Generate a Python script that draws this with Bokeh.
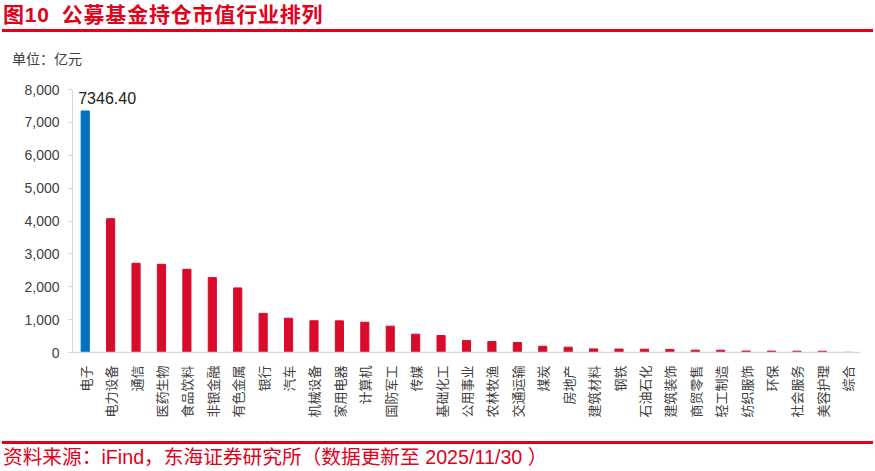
import math
from bokeh.plotting import figure
from bokeh.models import (ColumnDataSource, FactorRange, Range1d, NumeralTickFormatter,
                          FixedTicker, LabelSet, Div)
from bokeh.layouts import column
from bokeh.core.properties import value
from bokeh.embed import file_html
from bokeh.resources import INLINE

# ---- data ----
title_fig = "图10"
title_text = "公募基金持仓市值行业排列"
unit_text = "单位：亿元"
source_text = "资料来源：iFind，东海证券研究所（数据更新至 2025/11/30 ）"

industries = ["电子", "电力设备", "通信", "医药生物", "食品饮料", "非银金融", "有色金属", "银行",
              "汽车", "机械设备", "家用电器", "计算机", "国防军工", "传媒", "基础化工", "公用事业",
              "农林牧渔", "交通运输", "煤炭", "房地产", "建筑材料", "钢铁", "石油石化", "建筑装饰",
              "商贸零售", "轻工制造", "纺织服饰", "环保", "社会服务", "美容护理", "综合"]
market_value = [7346.40, 4070, 2713, 2683, 2531, 2278, 1964, 1190,
                1040, 965, 962, 921, 800, 557, 516, 364,
                334, 304, 190, 162, 110, 105, 100, 95,
                72, 70, 45, 42, 40, 38, 5]
y_ticks = [0, 1000, 2000, 3000, 4000, 5000, 6000, 7000, 8000]

RED = "#D80C2A"
TITLE_RED = "#E2001A"
BLUE = "#0070C0"
TXT = "#404040"
AXIS = "#D9D9D9"

colors = [BLUE] + [RED] * (len(industries) - 1)
src = ColumnDataSource(dict(cat=industries, val=market_value, color=colors))
lab_src = ColumnDataSource(dict(cat=industries[:1], val=market_value[:1],
                                txt=["%.2f" % market_value[0]]))

W = 875

head = Div(width=W, height=78, margin=0, text=f"""
<div style="position:relative;width:{W}px;height:78px;">
  <div style="position:absolute;left:3px;top:2px;white-space:nowrap;font-family:'Liberation Sans','Noto Sans CJK SC';font-weight:bold;font-size:21px;line-height:26px;letter-spacing:0.8px;color:{TITLE_RED};">{title_fig}<span style="margin-left:12px;">{title_text}</span></div>
  <div style="position:absolute;left:2px;top:29px;width:871px;height:3px;background:{TITLE_RED};"></div>
  <div style="position:absolute;left:12px;top:50px;white-space:nowrap;font-family:'Noto Sans CJK SC';font-size:14px;line-height:16px;color:{TXT};">{unit_text}</div>
</div>""")

p = figure(width=W, height=362, x_range=FactorRange(factors=industries, range_padding=0),
           y_range=Range1d(0, 8000), output_backend="svg", toolbar_location=None,
           min_border_left=72, min_border_right=15, min_border_top=11, min_border_bottom=88)
p.outline_line_color = None
p.xgrid.visible = False
p.ygrid.visible = False

p.vbar(x="cat", top="val", width=0.32, source=src, fill_color="color", line_color="color")

p.add_layout(LabelSet(x="cat", y="val", text="txt", source=lab_src, x_offset=-7, y_offset=7,
                      text_align="left", text_baseline="bottom", text_font_size="16px",
                      text_font=value("Liberation Sans"), text_color="#222222"))

ya = p.yaxis[0]
ya.ticker = FixedTicker(ticks=y_ticks)
ya.formatter = NumeralTickFormatter(format="0,0")
ya.axis_line_color = AXIS
ya.major_tick_line_color = AXIS
ya.major_tick_in = 0
ya.major_tick_out = 4
ya.minor_tick_line_color = None
ya.major_label_text_font = "Liberation Sans"
ya.major_label_text_font_size = "14px"
ya.major_label_text_color = TXT
ya.major_label_standoff = 9

xa = p.xaxis[0]
xa.axis_line_color = AXIS
xa.axis_line_width = 1.5
xa.major_tick_line_color = None
xa.minor_tick_line_color = None
xa.major_label_orientation = math.pi / 2
xa.major_label_text_font = "Noto Sans CJK SC"
xa.major_label_text_font_size = "13px"
xa.major_label_text_color = TXT
xa.major_label_standoff = 7

foot = Div(width=W, height=31, margin=0, text=f"""
<div style="position:relative;width:{W}px;height:31px;">
  <div style="position:absolute;left:2px;top:1px;width:871px;height:3px;background:{TITLE_RED};"></div>
  <div style="position:absolute;left:3px;top:6px;white-space:nowrap;font-family:'Liberation Sans','Noto Sans CJK SC';font-size:19.7px;line-height:22px;color:{TITLE_RED};">{source_text}</div>
</div>""")

layout = column(head, p, foot, spacing=0)
open("out.html", "w").write(file_html(layout, INLINE))
